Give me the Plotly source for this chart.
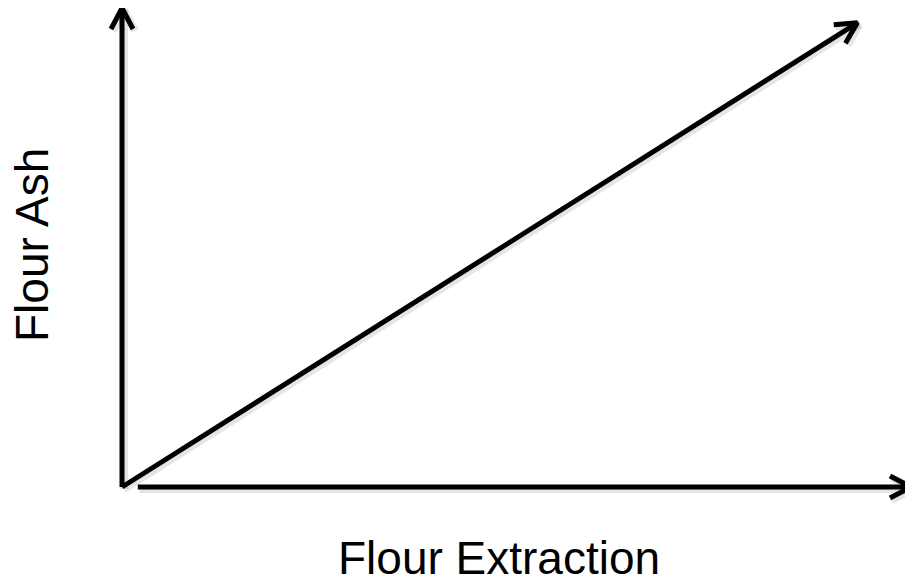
import math
import plotly.graph_objects as go

# ---- data (conceptual units) ----
x_axis_x = [2.0, 100.0]
x_axis_y = [0.0, 0.0]
y_axis_x = [0.0, 0.0]
y_axis_y = [0.0, 100.0]
trend_x = [0.0, 93.2]
trend_y = [0.0, 96.9]
x_label = "Flour Extraction"
y_label = "Flour Ash"

# ---- layout geometry (page has an 8px body margin) ----
OFF = 8
W, H = 913 - OFF, 584 - OFF
px0, px100 = 122 - OFF, 911 - OFF   # pixel positions of x=0 and x=100
py0, py100 = 487 - OFF, 8 - OFF     # pixel positions of y=0 and y=100
xs = (px100 - px0) / 100.0
ys = (py0 - py100) / 100.0
xrange_ = [-px0 / xs, (W - px0) / xs]
yrange_ = [-(H - py0) / ys, py0 / ys]

LW = 5
HEAD_LEN = 21
HEAD_HALF = 11


def chevron(xa, ya):
    """Open arrow head at the last point of (xa, ya), sized in pixels."""
    x1, y1 = xa[-2] * xs, ya[-2] * ys
    x2, y2 = xa[-1] * xs, ya[-1] * ys
    L = math.hypot(x2 - x1, y2 - y1)
    ux, uy = (x2 - x1) / L, (y2 - y1) / L
    nx, ny = -uy, ux
    bx, by = x2 - ux * HEAD_LEN, y2 - uy * HEAD_LEN
    pts = [(bx + nx * HEAD_HALF, by + ny * HEAD_HALF), (x2, y2),
           (bx - nx * HEAD_HALF, by - ny * HEAD_HALF)]
    return [p[0] / xs for p in pts], [p[1] / ys for p in pts]


fig = go.Figure()
series = [(x_axis_x, x_axis_y), (y_axis_x, y_axis_y), (trend_x, trend_y)]

# faint shadow
for xa, ya in series:
    hx, hy = chevron(xa, ya)
    for sx, sy in [(xa, ya), (hx, hy)]:
        fig.add_trace(go.Scatter(
            x=[v + 2 / xs for v in sx], y=[v - 2 / ys for v in sy],
            mode="lines", line=dict(color="rgba(0,0,0,0.10)", width=LW + 3),
            hoverinfo="skip", showlegend=False))

for xa, ya in series:
    fig.add_trace(go.Scatter(x=xa, y=ya, mode="lines",
                             line=dict(color="black", width=LW),
                             hoverinfo="skip", showlegend=False))
    hx, hy = chevron(xa, ya)
    fig.add_trace(go.Scatter(x=hx, y=hy, mode="lines",
                             line=dict(color="black", width=LW),
                             hoverinfo="skip", showlegend=False))

font = dict(family="Liberation Sans, Arial, sans-serif", size=46, color="black")
fig.add_annotation(x=(499 - OFF - px0) / xs, y=-(558 - OFF - py0) / ys,
                   xref="x", yref="y",
                   text=x_label, showarrow=False, font=font,
                   xanchor="center", yanchor="middle")
fig.add_annotation(x=-(px0 - (32 - OFF)) / xs, y=(py0 - (245 - OFF)) / ys,
                   xref="x", yref="y",
                   text=y_label, showarrow=False, font=font, textangle=-90,
                   xanchor="center", yanchor="middle")

fig.update_layout(
    width=W, height=H, margin=dict(l=0, r=0, t=0, b=0),
    paper_bgcolor="white", plot_bgcolor="white",
    xaxis=dict(range=xrange_, visible=False, fixedrange=True),
    yaxis=dict(range=yrange_, visible=False, fixedrange=True),
    showlegend=False,
)
fig.write_html("out.html", config={"displayModeBar": False})
